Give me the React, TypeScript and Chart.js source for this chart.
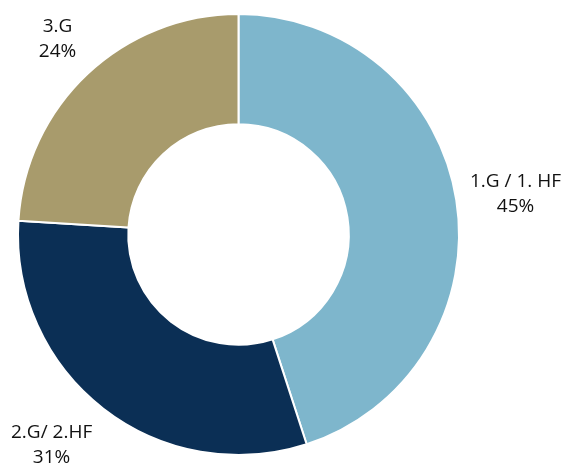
import React, { useEffect, useRef } from "react";
import { Chart, registerables } from "chart.js";

Chart.register(...registerables);

const categories = ["1.G / 1. HF", "2.G/ 2.HF", "3.G"];
const shares = [45, 31, 24];
const sliceColors = ["#7EB6CC", "#0B2F55", "#A89B6C"];
// label nudges (px) relative to the default outside position
const labelNudgeX = [0, -15, 11];
const labelNudgeY = [3, -11, 9];

const outsideLabels = {
  id: "outsideLabels",
  afterDraw(chart: any) {
    const ctx = chart.ctx;
    const meta = chart.getDatasetMeta(0);
    ctx.save();
    ctx.font = "19px 'Open Sans', sans-serif";
    ctx.fillStyle = "#111111";
    ctx.textAlign = "center";
    ctx.textBaseline = "middle";
    meta.data.forEach((arc: any, i: number) => {
      const { x, y, startAngle, endAngle, outerRadius } = arc.getProps(
        ["x", "y", "startAngle", "endAngle", "outerRadius"],
        true
      );
      const mid = (startAngle + endAngle) / 2;
      const r = outerRadius + 60;
      const cx = x + Math.cos(mid) * r + labelNudgeX[i];
      const cy = y + Math.sin(mid) * r + labelNudgeY[i];
      ctx.fillText(categories[i], cx, cy - 12.5);
      ctx.fillText(shares[i] + "%", cx, cy + 12.5);
    });
    ctx.restore();
  },
};

export default function App() {
  const ref = useRef<HTMLCanvasElement>(null);
  useEffect(() => {
    document.body.style.margin = "0";
    const chart = new Chart(ref.current!, {
      type: "doughnut",
      data: {
        labels: categories,
        datasets: [
          {
            data: shares,
            backgroundColor: sliceColors,
            borderColor: "#ffffff",
            borderWidth: 2,
          },
        ],
      },
      options: {
        animation: false,
        responsive: false,
        cutout: "50%",
        layout: { padding: { top: 13, bottom: 10, left: 17, right: 108 } },
        plugins: {
          legend: { display: false },
          tooltip: { enabled: false },
        },
      },
      plugins: [outsideLabels],
    });
    return () => chart.destroy();
  }, []);
  return (
    <div style={{ position: "fixed", left: 0, top: 0, width: 568, height: 466 }}>
      <canvas ref={ref} width={568} height={466} style={{ width: 568, height: 466 }} />
    </div>
  );
}
